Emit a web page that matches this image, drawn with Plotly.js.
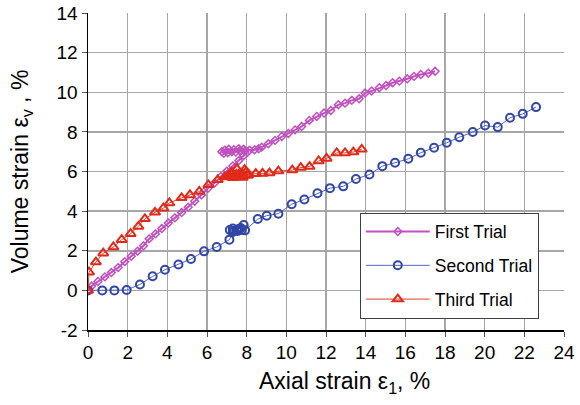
<!DOCTYPE html>
<html><head><meta charset="utf-8">
<script src="https://cdn.plot.ly/plotly-3.0.1.min.js"></script>
<style>html,body{margin:0;padding:0;background:#fff}#chart{width:580px;height:405px}</style>
</head><body><div id="chart"></div>
<script>
const firstX = [0, 0.19, 0.5, 0.85, 1.18, 1.52, 1.85, 2.18, 2.5, 2.8, 3.08, 3.4, 3.72, 4.05, 4.38, 4.72, 5.05, 5.38, 5.72, 6.05, 6.38, 6.7, 7.0, 7.3, 7.6, 7.85, 8.05, 7.85, 7.6, 7.35, 7.1, 6.9, 6.75, 6.85, 7.05, 7.25, 7.45, 7.65, 7.9, 8.15, 8.4, 8.6, 8.76, 9.09, 9.43, 9.77, 10.1, 10.44, 10.77, 11.16, 11.53, 11.9, 12.24, 12.62, 12.96, 13.3, 13.67, 13.97, 14.3, 14.69, 15.03, 15.36, 15.7, 16.1, 16.44, 16.78, 17.16, 17.5];
const firstY = [0, 0.22, 0.45, 0.68, 0.9, 1.15, 1.45, 1.72, 1.98, 2.25, 2.6, 2.85, 3.12, 3.4, 3.66, 3.93, 4.2, 4.5, 4.82, 5.15, 5.42, 5.75, 6.02, 6.28, 6.55, 6.8, 6.98, 7.12, 7.15, 7.1, 7.12, 7.08, 7.0, 6.92, 6.95, 7.0, 6.98, 7.05, 7.02, 7.08, 7.1, 7.15, 7.23, 7.4, 7.57, 7.77, 7.92, 8.1, 8.27, 8.58, 8.78, 8.95, 9.08, 9.37, 9.45, 9.59, 9.67, 9.96, 10.06, 10.23, 10.34, 10.48, 10.56, 10.68, 10.8, 10.9, 10.96, 11.06];

const secondX = [0, 0.72, 1.33, 1.95, 2.62, 3.26, 3.88, 4.56, 5.19, 5.85, 6.49, 7.13, 7.3, 7.5, 7.7, 7.85, 7.6, 7.35, 7.15, 7.3, 7.55, 7.75, 7.92, 8.56, 9.01, 9.6, 10.27, 10.91, 11.57, 12.2, 12.87, 13.51, 14.19, 14.84, 15.48, 16.15, 16.78, 17.45, 18.09, 18.72, 19.4, 20.02, 20.66, 21.28, 21.92, 22.59];
const secondY = [0, 0, 0, 0.02, 0.3, 0.71, 1.04, 1.31, 1.58, 1.97, 2.19, 2.56, 2.95, 3.05, 3.15, 3.3, 3.1, 3.0, 3.05, 3.12, 3.0, 3.05, 3.03, 3.6, 3.77, 3.87, 4.35, 4.59, 4.9, 5.16, 5.25, 5.62, 5.85, 6.27, 6.44, 6.64, 6.95, 7.2, 7.45, 7.73, 7.99, 8.32, 8.24, 8.71, 8.91, 9.25];

const thirdX = [0, 0.05, 0.4, 0.77, 1.28, 1.7, 2.15, 2.54, 2.87, 3.38, 3.8, 4.1, 4.72, 5.14, 5.61, 6.07, 6.54, 6.9, 7.1, 7.25, 7.4, 7.5, 7.6, 7.75, 7.9, 8.05, 7.8, 7.55, 7.3, 7.05, 7.2, 7.45, 7.7, 7.95, 8.1, 8.46, 8.8, 9.15, 9.6, 10.3, 10.73, 11.17, 11.63, 12.03, 12.54, 12.96, 13.38, 13.8];
const thirdY = [0, 0.92, 1.43, 1.88, 2.19, 2.56, 2.86, 3.23, 3.61, 3.94, 4.15, 4.41, 4.67, 4.82, 4.99, 5.33, 5.58, 5.72, 5.8, 5.95, 5.75, 6.14, 5.85, 5.9, 6.09, 5.8, 5.7, 5.72, 5.68, 5.75, 5.9, 5.82, 5.78, 5.95, 5.85, 5.89, 5.9, 5.92, 6.02, 6.07, 6.2, 6.25, 6.53, 6.66, 6.94, 6.94, 6.98, 7.12];

const seriesNames = ["First Trial", "Second Trial", "Third Trial"];
const xTicks = [0, 2, 4, 6, 8, 10, 12, 14, 16, 18, 20, 22, 24];
const yTicks = [-2, 0, 2, 4, 6, 8, 10, 12, 14];
const xTitle = "Axial strain ε<sub>1</sub>, %";
const yTitle = "Volume strain ε<sub>v</sub> , %";

const FONT = "Liberation Sans, Arial, sans-serif";
const traces = [
  {x: firstX, y: firstY, name: seriesNames[0], legendgroup: "a", mode: "lines+markers", type: "scatter",
   line: {color: "#c050c0", width: 2}, marker: {symbol: "diamond-open", size: 6, color: "#c050c0", line: {width: 1.5, color: "#c050c0"}}},
  {x: secondX, y: secondY, name: seriesNames[1], legendgroup: "b", mode: "lines+markers", type: "scatter",
   line: {color: "#5468c4", width: 1}, marker: {symbol: "circle-open", size: 8, color: "#3146a6", line: {width: 2, color: "#3146a6"}}},
  {x: thirdX, y: thirdY, name: seriesNames[2], legendgroup: "c", mode: "lines+markers", type: "scatter",
   line: {color: "#e3402e", width: 1}, marker: {symbol: "triangle-up-open", size: 9, color: "#e12a1a", line: {width: 2, color: "#e12a1a"}}}
];
const layout = {
  width: 580, height: 405,
  margin: {l: 88, r: 16, t: 13, b: 75, pad: 0},
  paper_bgcolor: "#fff", plot_bgcolor: "#fff",
  font: {family: FONT, size: 19, color: "#000"},
  showlegend: true,
  legend: {x: 0.571, y: 0.37, xanchor: "left", yanchor: "top", bgcolor: "#fff", bordercolor: "#404040", borderwidth: 1,
           font: {family: FONT, size: 17.5, color: "#000"}, tracegroupgap: 8, traceorder: "grouped", itemwidth: 64},
  xaxis: {range: [0, 24], tickvals: xTicks, ticktext: xTicks.map(String), showgrid: true, gridcolor: "#a6a6a6", gridwidth: 1.5,
          zeroline: false, showline: true, linecolor: "#000", linewidth: 1.5, ticks: "outside", ticklen: 5, tickcolor: "#555",
          tickfont: {family: FONT, size: 19}},
  yaxis: {range: [-2, 14], tickvals: yTicks, ticktext: yTicks.map(String), showgrid: true, gridcolor: "#a6a6a6", gridwidth: 1.5,
          zeroline: false, showline: true, linecolor: "#000", linewidth: 1.5, ticks: "outside", ticklen: 5, tickcolor: "#555",
          tickfont: {family: FONT, size: 19}, title: {text: yTitle, font: {family: FONT, size: 23}, standoff: 21}},
  annotations: [{text: xTitle, xref: "paper", yref: "paper", x: 0.538, y: -0.167, xanchor: "center", yanchor: "middle",
                 showarrow: false, font: {family: FONT, size: 23, color: "#000"}}]
};
Plotly.newPlot("chart", traces, layout, {staticPlot: true, displayModeBar: false});
</script></body></html>
